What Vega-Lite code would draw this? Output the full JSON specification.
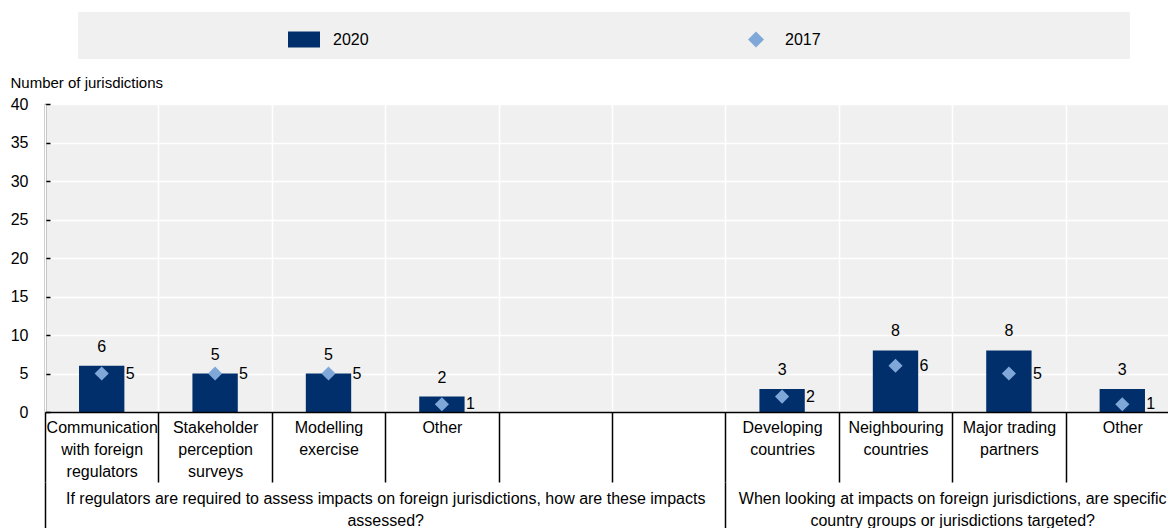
{
  "$schema": "https://vega.github.io/schema/vega-lite/v6.json",
  "autosize": {"type": "none"},
  "padding": {"left": 45, "top": 104, "right": 0, "bottom": 116},
  "width": 1123,
  "height": 308,
  "config": {
    "font": "Liberation Sans",
    "view": {"fill": "#f0f0f0", "stroke": null},
    "text": {"font": "Liberation Sans"}
  },
  "datasets": {
    "main": [
      {"cat": "Communication|with foreign|regulators", "year": "2020", "value": 6},
      {"cat": "Communication|with foreign|regulators", "year": "2017", "value": 5},
      {"cat": "Stakeholder|perception|surveys", "year": "2020", "value": 5},
      {"cat": "Stakeholder|perception|surveys", "year": "2017", "value": 5},
      {"cat": "Modelling|exercise", "year": "2020", "value": 5},
      {"cat": "Modelling|exercise", "year": "2017", "value": 5},
      {"cat": "Other", "year": "2020", "value": 2},
      {"cat": "Other", "year": "2017", "value": 1},
      {"cat": "Developing|countries", "year": "2020", "value": 3},
      {"cat": "Developing|countries", "year": "2017", "value": 2},
      {"cat": "Neighbouring|countries", "year": "2020", "value": 8},
      {"cat": "Neighbouring|countries", "year": "2017", "value": 6},
      {"cat": "Major trading|partners", "year": "2020", "value": 8},
      {"cat": "Major trading|partners", "year": "2017", "value": 5},
      {"cat": "Other ", "year": "2020", "value": 3},
      {"cat": "Other ", "year": "2017", "value": 1}
    ],
    "groups": [
      {"gx": 3, "group": "If regulators are required to assess impacts on foreign jurisdictions, how are these impacts assessed?"},
      {"gx": 8, "group": "When looking at impacts on foreign jurisdictions, are specific country groups or jurisdictions targeted?"}
    ]
  },
  "layer": [
    {
      "data": {"name": "main"},
      "encoding": {
        "x": {
          "field": "cat",
          "type": "nominal",
          "sort": null,
          "scale": {
            "domain": ["Communication|with foreign|regulators", "Stakeholder|perception|surveys", "Modelling|exercise", "Other", "blank1", "blank2", "Developing|countries", "Neighbouring|countries", "Major trading|partners", "Other "],
            "range": [0, 1134],
            "paddingInner": 0,
            "paddingOuter": 0
          },
          "axis": {
            "title": null,
            "orient": "bottom",
            "zindex": 1,
            "tickBand": "extent",
            "labelAngle": 0,
            "labelExpr": "(datum.label == null || datum.label == '' || indexof(datum.label + '', 'blank') == 0) ? '' : split(trim(datum.label + ''), '|')",
            "labelFontSize": 16,
            "labelColor": "#000000",
            "labelLineHeight": 22,
            "labelPadding": -63,
            "labelLimit": 1000,
            "labelOverlap": false,
            "labelBound": false,
            "labelFlush": false,
            "ticks": true,
            "tickSize": 70,
            "tickColor": "#000000",
            "tickWidth": 1.5,
            "domain": true,
            "domainColor": "#000000",
            "domainWidth": 1.5,
            "grid": true,
            "gridColor": "#ffffff",
            "gridWidth": 1.5
          }
        },
        "y": {
          "field": "value",
          "type": "quantitative",
          "scale": {"domain": [0, 40], "nice": false, "zero": true},
          "axis": {
            "title": "Number of jurisdictions",
            "titleAngle": 0,
            "titleAlign": "left",
            "titleBaseline": "middle",
            "titleX": -35,
            "titleY": -22,
            "titleFontSize": 15,
            "titleFontWeight": "normal",
            "titleColor": "#000000",
            "values": [0, 5, 10, 15, 20, 25, 30, 35, 40],
            "labelFontSize": 16,
            "labelColor": "#000000",
            "labelPadding": 22,
            "tickSize": -5,
            "tickColor": "#000000",
            "tickWidth": 1.5,
            "domainColor": "#000000",
            "domainWidth": 1.5,
            "grid": true,
            "gridColor": "#ffffff",
            "gridWidth": 1.5
          }
        }
      },
      "layer": [
        {
          "transform": [{"filter": "datum.year == '2020'"}],
          "mark": {"type": "bar", "color": "#002F6C", "width": {"band": 0.4}}
        },
        {
          "transform": [{"filter": "datum.year == '2017'"}],
          "mark": {"type": "point", "filled": true, "size": 800, "opacity": 1, "strokeWidth": 0},
          "encoding": {
            "color": {
              "field": "year",
              "type": "nominal",
              "scale": {"domain": ["2020", "2017"], "range": ["#002F6C", "#7FA8D9"]},
              "legend": {
                "orient": "none",
                "legendX": 33,
                "legendY": -92,
                "direction": "horizontal",
                "columns": 2,
                "fillColor": "#f0f0f0",
                "padding": 11.5,
                "title": " ",
                "titleOrient": "left",
                "titleFontSize": 16,
                "titlePadding": 198.5,
                "symbolSize": 1024,
                "symbolStrokeWidth": 0,
                "labelFontSize": 16,
                "labelColor": "#000000",
                "labelOffset": 13,
                "labelLimit": 1000,
                "columnPadding": 371,
                "labelExpr": "datum.label == '2017' ? pad(datum.label, 71) + '\u200b' : datum.label"
              }
            },
            "shape": {
              "field": "year",
              "type": "nominal",
              "scale": {"domain": ["2020", "2017"], "range": ["M-1,-0.5H1V0.5H-1Z", "M0,-0.5L0.5,0L0,0.5L-0.5,0Z"]},
              "legend": {
                "orient": "none",
                "legendX": 33,
                "legendY": -92,
                "direction": "horizontal",
                "columns": 2,
                "fillColor": "#f0f0f0",
                "padding": 11.5,
                "title": " ",
                "titleOrient": "left",
                "titleFontSize": 16,
                "titlePadding": 198.5,
                "symbolSize": 1024,
                "symbolStrokeWidth": 0,
                "labelFontSize": 16,
                "labelColor": "#000000",
                "labelOffset": 13,
                "labelLimit": 1000,
                "columnPadding": 371,
                "labelExpr": "datum.label == '2017' ? pad(datum.label, 71) + '\u200b' : datum.label"
              }
            }
          }
        },
        {
          "transform": [{"filter": "datum.year == '2020'"}],
          "mark": {"type": "text", "fontSize": 16, "color": "#000000", "baseline": "alphabetic", "dy": -14},
          "encoding": {"text": {"field": "value", "type": "quantitative"}}
        },
        {
          "transform": [{"filter": "datum.year == '2017'"}],
          "mark": {"type": "text", "fontSize": 16, "color": "#000000", "align": "left", "baseline": "middle", "dx": 24},
          "encoding": {"text": {"field": "value", "type": "quantitative"}}
        }
      ]
    },
    {
      "data": {"name": "groups"},
      "mark": {"type": "point", "opacity": 0},
      "encoding": {
        "x": {
          "field": "gx",
          "type": "quantitative",
          "scale": {"domain": [0, 10], "range": [0, 1134], "nice": false, "zero": false},
          "axis": {
            "title": null,
            "orient": "bottom",
            "offset": 70,
            "values": [0, 3, 6, 8, 10],
            "domain": false,
            "grid": false,
            "ticks": true,
            "tickSize": 50,
            "tickWidth": 1.5,
            "tickColor": {"condition": {"test": "datum.value == 3 || datum.value == 8", "value": "transparent"}, "value": "#000000"},
            "labelExpr": "datum.value == 3 ? ['If regulators are required to assess impacts on foreign jurisdictions, how are these impacts', 'assessed?'] : datum.value == 8 ? ['When looking at impacts on foreign jurisdictions, are specific', 'country groups or jurisdictions targeted?'] : ''",
            "labelFontSize": 16,
            "labelColor": "#000000",
            "labelLineHeight": 22,
            "labelPadding": -42,
            "labelLimit": 2000,
            "labelOverlap": false,
            "labelBound": false,
            "labelFlush": false
          }
        }
      }
    }
  ],
  "resolve": {"scale": {"x": "independent"}, "axis": {"x": "independent"}}
}
